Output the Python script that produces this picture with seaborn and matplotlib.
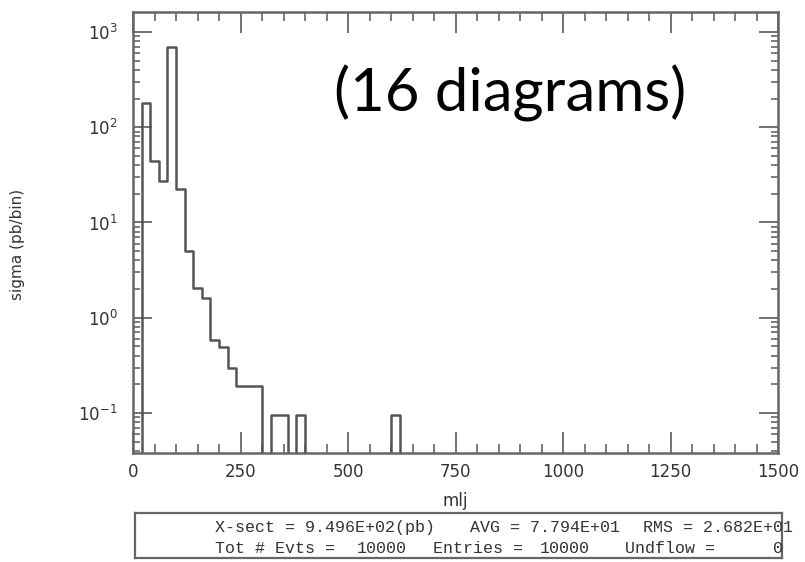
import numpy as np
import pandas as pd
import matplotlib
matplotlib.use("Agg")
import matplotlib.pyplot as plt
from matplotlib.ticker import LogLocator, MultipleLocator, NullFormatter
import seaborn as sns

# bins of mlj (20 GeV wide), only the filled ones
bin_centers = [30, 50, 70, 90, 110, 130, 150, 170, 190, 210, 230, 250, 270, 290,
               330, 350, 390, 610]
sigma_pb = [178, 44, 27, 700, 22.6, 5.0, 2.05, 1.62, 0.59, 0.495, 0.296, 0.19, 0.19, 0.19,
            0.095, 0.095, 0.095, 0.095]
bin_width = 20
x_range = (0, 1500)

x_ticks = [0, 250, 500, 750, 1000, 1250, 1500]

# stats box text, (x pixel, text) per row
stats_row1 = [(215, "X-sect = 9.496E+02(pb)"), (470, "AVG = 7.794E+01"),
              (643, "RMS = 2.682E+01")]
stats_row2 = [(215, "Tot # Evts ="), (357, "10000"), (433, "Entries ="),
              (540, "10000"), (625, "Undflow ="), (773, "0")]

df = pd.DataFrame({"mlj": bin_centers, "sigma": sigma_pb})

sns.set_theme(style="white")
plt.rcParams["font.family"] = ["DejaVu Sans"]

W, H = 805, 562
fig = plt.figure(figsize=(W / 100, H / 100), dpi=100)
ax = fig.add_axes([133 / W, 1 - 453 / H, 645 / W, 441 / H])

sns.histplot(data=df, x="mlj", weights="sigma", binwidth=bin_width, binrange=x_range,
             element="step", fill=False, color="#555555", linewidth=1.8, ax=ax)
ax.set_yscale("log")
ax.set_xlim(*x_range)
ax.set_ylim(0.038, 1620)

frame_col = "#666666"
txt_col = "#333333"
for s in ax.spines.values():
    s.set_color(frame_col)
    s.set_linewidth(1.8)

ax.set_xticks(x_ticks)
ax.xaxis.set_minor_locator(MultipleLocator(50))
ax.yaxis.set_major_locator(LogLocator(base=10, numticks=10))
ax.yaxis.set_minor_locator(LogLocator(base=10, subs=np.arange(2, 10), numticks=10))
ax.yaxis.set_minor_formatter(NullFormatter())

ax.tick_params(axis="x", which="major", direction="in", length=15, width=1.3,
               color=frame_col, top=True, bottom=True, pad=7, labelsize=12,
               labelcolor=txt_col)
ax.tick_params(axis="x", which="minor", direction="in", length=6.5, width=1.2,
               color=frame_col, top=True, bottom=True)
ax.tick_params(axis="y", which="major", direction="in", length=14, width=1.3,
               color=frame_col, left=True, right=True, pad=11, labelsize=12,
               labelcolor=txt_col)
ax.tick_params(axis="y", which="minor", direction="in", length=5, width=1.2,
               color=frame_col, left=True, right=True)

ax.set_xlabel("mlj", fontsize=12, color=txt_col, labelpad=8)
ax.set_ylabel("sigma (pb/bin)", fontsize=11, color=txt_col)
ax.yaxis.set_label_coords(-0.167, 0.474)

ax.text(0.584, 0.816, "(16 diagrams)", transform=ax.transAxes, ha="center", va="center",
        fontsize=43, family=["Lato", "DejaVu Sans"], color="black")

# stats box below the plot
box = fig.add_axes([135 / W, 1 - 558 / H, 647 / W, 45 / H])
box.set_xticks([])
box.set_yticks([])
for s in box.spines.values():
    s.set_color(frame_col)
    s.set_linewidth(1.6)
for row_y, row in [(0.67, stats_row1), (0.22, stats_row2)]:
    for px, t in row:
        fig.text(px / W, (1 - 558 / H) + row_y * 45 / H, t, ha="left", va="center",
                 fontsize=12, family="Liberation Mono", color=txt_col)

fig.savefig("out.png", dpi=100)
